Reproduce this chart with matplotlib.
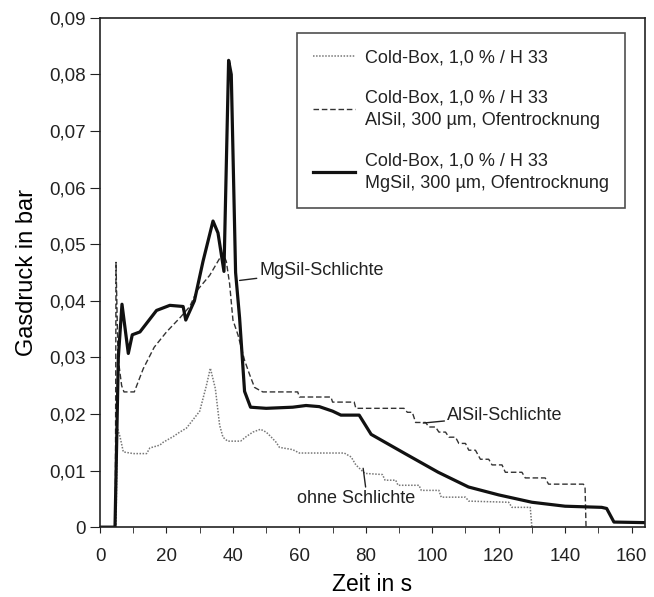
import matplotlib
matplotlib.use("Agg")
from matplotlib import pyplot as plt
from matplotlib.ticker import MultipleLocator, FuncFormatter

# Gasdruck über Zeit, drei Varianten

# ohne Schlichte (gepunktet)
t_ohne = [0, 4.8, 5.2, 6, 7, 10, 14, 15, 18, 19, 22, 24, 26, 28, 30, 32, 33.2, 34.7, 36, 37,
          38.4, 42.3, 44, 46, 48.3, 50, 51.4, 53, 54, 58, 60, 73.5, 75.6, 77, 79.7, 85, 85.8,
          89, 89.7, 96, 96.7, 102, 102.7, 110, 111, 123, 124, 129.5, 130]
p_ohne = [0, 0, 0.0175, 0.016, 0.0133, 0.0130, 0.0130, 0.0140, 0.0145, 0.0150, 0.0160, 0.0168,
          0.0175, 0.0190, 0.0205, 0.0250, 0.0281, 0.0245, 0.0180, 0.0159, 0.0152, 0.0152, 0.0160,
          0.0168, 0.0173, 0.0168, 0.0160, 0.0150, 0.0141, 0.0137, 0.0131, 0.0131, 0.0124, 0.0110,
          0.0095, 0.0093, 0.0083, 0.0083, 0.0074, 0.0074, 0.0065, 0.0065, 0.0053, 0.0053, 0.0046,
          0.0044, 0.0035, 0.0035, 0]

# AlSil-Schlichte (gestrichelt)
t_alsil = [0, 4.6, 4.8, 5.4, 6.5, 7.2, 10.3, 13, 16.3, 20, 24.2, 27, 29.3, 33, 36.9, 38, 39, 40,
           41.5, 43.5, 45, 46.5, 48, 49, 59.5, 60, 69.5, 70, 76.5, 77, 91.5, 92.5, 94, 95, 98, 99,
           101, 102, 104, 105, 107, 108, 110, 111, 113, 114.5, 117, 118, 121, 122, 127, 128, 134,
           135, 145.5, 146, 146.3]
p_alsil = [0, 0, 0.0468, 0.030, 0.025, 0.0239, 0.0239, 0.028, 0.0318, 0.0345, 0.0371, 0.039,
           0.0419, 0.0445, 0.0484, 0.047, 0.043, 0.0366, 0.034, 0.0295, 0.027, 0.0247, 0.0242,
           0.0239, 0.0239, 0.0230, 0.0230, 0.0221, 0.0221, 0.0210, 0.0210, 0.0203, 0.0203, 0.0185,
           0.0185, 0.0177, 0.0177, 0.0168, 0.0168, 0.0159, 0.0159, 0.0148, 0.0148, 0.0136, 0.0136,
           0.0120, 0.0120, 0.0110, 0.0110, 0.0097, 0.0097, 0.0087, 0.0087, 0.0076, 0.0076, 0.0070, 0]

# MgSil-Schlichte (durchgezogen)
t_mgsil = [0, 4.5, 5.5, 6.6, 8.5, 9.7, 12, 17, 21, 25, 25.8, 28.4, 31, 34, 35.5, 37.3, 38.7,
           39.5, 40.8, 42, 43.5, 45.3, 50, 58, 62, 66, 70, 72.5, 78, 81.6, 91.8, 101.8, 110.9,
           120, 130, 140, 151, 152.5, 154.7, 164]
p_mgsil = [0, 0, 0.030, 0.0394, 0.0307, 0.0340, 0.0345, 0.0383, 0.0392, 0.0390, 0.0366, 0.0400,
           0.0470, 0.0541, 0.0520, 0.0452, 0.0825, 0.0800, 0.0450, 0.0370, 0.0240, 0.0212, 0.0210,
           0.0212, 0.0215, 0.0213, 0.0205, 0.0198, 0.0198, 0.0164, 0.0130, 0.0097, 0.0071, 0.0057,
           0.0044, 0.0037, 0.0035, 0.0033, 0.0009, 0.0008]

labels = ["Cold-Box, 1,0 % / H 33",
          "Cold-Box, 1,0 % / H 33\nAlSil, 300 \u00b5m, Ofentrocknung",
          "Cold-Box, 1,0 % / H 33\nMgSil, 300 \u00b5m, Ofentrocknung"]

plt.rcParams['font.family'] = ['Liberation Sans', 'DejaVu Sans']
plt.rcParams['text.color'] = '#222222'

fig = plt.figure(figsize=(6.54, 5.97), dpi=100)
ax = fig.add_axes([0.153, 0.117, 0.833, 0.853])

ax.plot(t_ohne, p_ohne, color='#777777', lw=1.1, ls=(0, (1, 1)), label=labels[0])
ax.plot(t_alsil, p_alsil, color='#333333', lw=1.0, ls=(0, (4, 2)), label=labels[1])
ax.plot(t_mgsil, p_mgsil, color='#111111', lw=2.3, label=labels[2])

ax.set_xlim(0, 164)
ax.set_ylim(0, 0.09)
ax.xaxis.set_major_locator(MultipleLocator(20))
ax.xaxis.set_minor_locator(MultipleLocator(10))
ax.yaxis.set_major_locator(MultipleLocator(0.01))
ax.yaxis.set_major_formatter(FuncFormatter(lambda v, pos: "0" if abs(v) < 1e-9 else ("%.2f" % v).replace(".", ",")))
ax.tick_params(axis='x', which='both', direction='out', length=4, labelsize=13.5, pad=11, colors='#222222')
ax.tick_params(axis='y', direction='out', length=7, labelsize=13.5, colors='#222222')
for s in ax.spines.values():
    s.set_color('#222222')
    s.set_linewidth(1.2)

ax.set_xlabel("Zeit in s", fontsize=16.5, labelpad=6)
ax.set_ylabel("Gasdruck in bar", fontsize=17, labelpad=8)

# Beschriftungen mit Hinweislinie
ax.annotate("MgSil-Schlichte", xy=(42, 0.0436), xytext=(48, 0.0454), fontsize=13, va='center',
            arrowprops=dict(arrowstyle='-', color='#222222', lw=1, shrinkA=0, shrinkB=0))
ax.annotate("AlSil-Schlichte", xy=(97.3, 0.0184), xytext=(104.5, 0.0198), fontsize=13, va='center',
            arrowprops=dict(arrowstyle='-', color='#222222', lw=1, shrinkA=0, shrinkB=0))
ax.annotate("ohne Schlichte", xy=(79.2, 0.0104), xytext=(95, 0.0051), fontsize=13, va='center', ha='right',
            arrowprops=dict(arrowstyle='-', color='#222222', lw=1, shrinkA=0, shrinkB=0,
                            relpos=(0.58, 1.0)))

leg = ax.legend(loc='upper left', bbox_to_anchor=(0.3615, 0.9705), fontsize=13, frameon=True,
                fancybox=False, edgecolor='#222222', handlelength=2.3, handletextpad=0.55,
                labelspacing=1.3, borderpad=0.9, borderaxespad=0)
leg.get_frame().set_linewidth(1.2)
for txt in leg.get_texts():
    txt.set_linespacing(1.4)

plt.savefig('out.png', dpi=100)
